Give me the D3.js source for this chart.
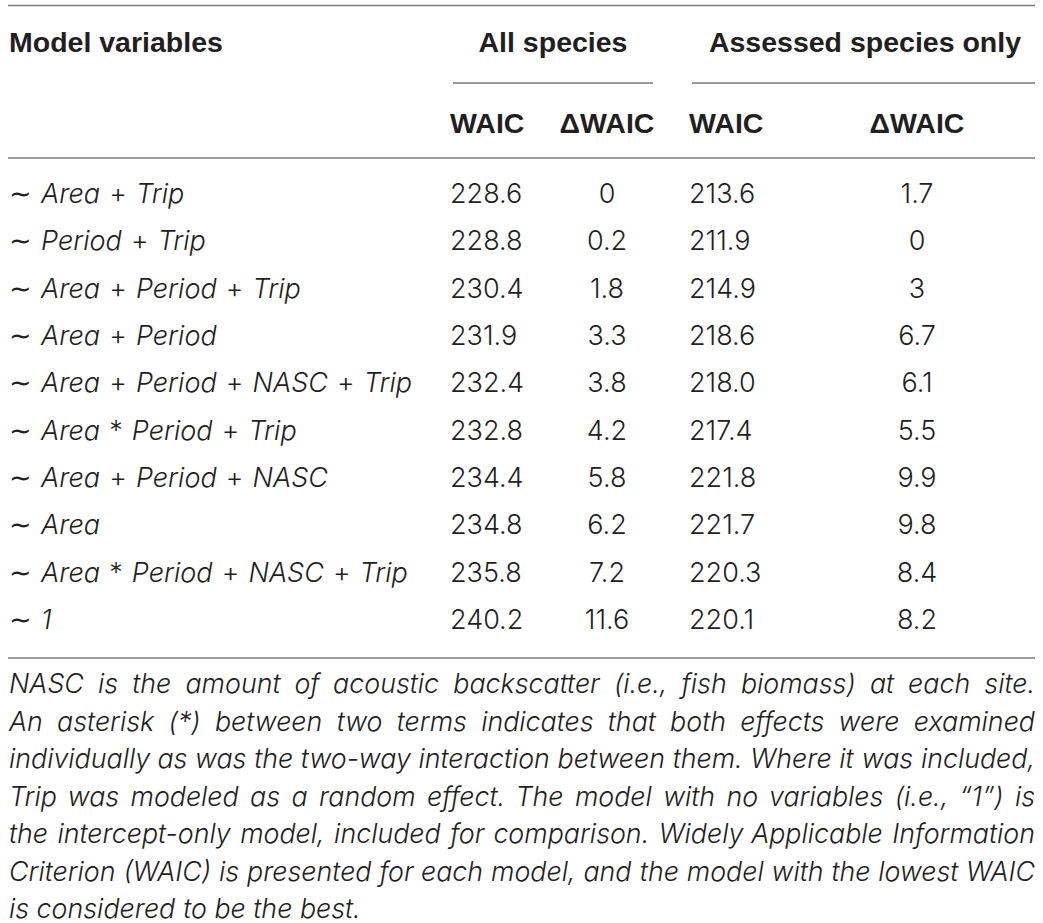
<!DOCTYPE html>
<html>
<head>
<meta charset="utf-8">
<script src="https://cdn.jsdelivr.net/npm/d3@7"></script>
<style>
	html, body { margin: 0; padding: 0; background: #fff; }
	svg { display: block; }
	text { fill: #231f20; }
	.head { font-family: "Liberation Sans", Arial, sans-serif; font-weight: bold; font-size: 28.5px; }
	.body { font-family: Inter, "Liberation Sans", sans-serif; font-weight: 300; font-size: 27px; }
	.note { font-family: Inter, "Liberation Sans", sans-serif; font-weight: 300; font-style: italic; font-size: 25px; }
	.rule { stroke: #7a7a7a; stroke-width: 1.3; }
</style>
</head>
<body>
<svg id="chart"></svg>
<script>
'use strict';

//Table content
var models = [
	'~ Area + Trip',
	'~ Period + Trip',
	'~ Area + Period + Trip',
	'~ Area + Period',
	'~ Area + Period + NASC + Trip',
	'~ Area * Period + Trip',
	'~ Area + Period + NASC',
	'~ Area',
	'~ Area * Period + NASC + Trip',
	'~ 1'
];
var waicAll = [228.6, 228.8, 230.4, 231.9, 232.4, 232.8, 234.4, 234.8, 235.8, 240.2];
var dWaicAll = [0, 0.2, 1.8, 3.3, 3.8, 4.2, 5.8, 6.2, 7.2, 11.6];
var waicAssessed = [213.6, 211.9, 214.9, 218.6, 218.0, 217.4, 221.8, 221.7, 220.3, 220.1];
var dWaicAssessed = [1.7, 0, 3, 6.7, 6.1, 5.5, 9.9, 9.8, 8.4, 8.2];

var groupHeaders = ['All species', 'Assessed species only'];
var colHeaders = ['WAIC', '\u0394WAIC', 'WAIC', '\u0394WAIC'];

var noteLines = [
	'NASC is the amount of acoustic backscatter (i.e., fish biomass) at each site.',
	'An asterisk (*) between two terms indicates that both effects were examined',
	'individually as was the two-way interaction between them. Where it was included,',
	'Trip was modeled as a random effect. The model with no variables (i.e., \u201c1\u201d) is',
	'the intercept-only model, included for comparison. Widely Applicable Information',
	'Criterion (WAIC) is presented for each model, and the model with the lowest WAIC',
	'is considered to be the best.'
];

var width = 1043, height = 923;
var left = 8, right = 1035;

var svg = d3.select('#chart').attr('width', width).attr('height', height);

//row baselines
var y = d3.scalePoint()
	.domain(d3.range(models.length))
	.range([203, 629]);

//columns: [x, anchor]
var cols = [
	{x: 450, anchor: 'start'},
	{x: 607, anchor: 'middle'},
	{x: 689, anchor: 'start'},
	{x: 917, anchor: 'middle'}
];

/***************************************
 * RULES
 ***************************************/
function rule(x1, x2, yy) {
	svg.append('line').attr('class', 'rule')
		.attr('x1', x1).attr('x2', x2).attr('y1', yy).attr('y2', yy);
}
rule(left, right, 5.5);
rule(453, 653, 83);
rule(692, right, 83);
rule(left, right, 158);
rule(left, right, 658);

/***************************************
 * HEADER
 ***************************************/
svg.append('text').attr('class', 'head')
	.attr('x', 9).attr('y', 52).text('Model variables');

svg.selectAll('text.group')
	.data(groupHeaders)
	.enter().append('text')
		.attr('class', 'head group')
		.attr('text-anchor', 'middle')
		.attr('x', function(d, i) { return i === 0 ? 553 : 865; })
		.attr('y', 52)
		.text(function(d) { return d; });

svg.selectAll('text.colhead')
	.data(colHeaders)
	.enter().append('text')
		.attr('class', 'head colhead')
		.attr('text-anchor', function(d, i) { return cols[i].anchor; })
		.attr('x', function(d, i) { return cols[i].x; })
		.attr('y', 133)
		.text(function(d) { return d; });

/***************************************
 * BODY
 ***************************************/
//operators upright and spaced wide, terms italic
var modelText = svg.selectAll('text.model')
	.data(models)
	.enter().append('text')
		.attr('class', 'body model')
		.attr('x', 9)
		.attr('y', function(d, i) { return y(i); });
modelText.each(function(d) {
	var t = d3.select(this);
	d.split(' ').forEach(function(tok, k) {
		var isOp = (tok === '~' || tok === '+' || tok === '*');
		t.append('tspan')
			.style('font-style', isOp ? 'normal' : 'italic')
			.attr('dx', k > 0 ? 1.5 : 0)
			.text((k > 0 ? ' ' : '') + (tok === '~' ? '\u223c' : tok));
	});
});

var series = [waicAll, dWaicAll, waicAssessed, dWaicAssessed];
series.forEach(function(vals, c) {
	svg.selectAll('text.col' + c)
		.data(vals)
		.enter().append('text')
			.attr('class', 'body col' + c)
			.attr('text-anchor', cols[c].anchor)
			.attr('x', cols[c].x)
			.attr('y', function(d, i) { return y(i); })
			.text(function(d) { return c % 2 === 0 ? d.toFixed(1) : String(d); });
});

/***************************************
 * FOOTNOTE (justified)
 ***************************************/
var noteY = d3.scalePoint()
	.domain(d3.range(noteLines.length))
	.range([693, 918]);

//size the note font so the tightest full line just fills the width
var probe = svg.append('text').attr('class', 'note');
var widest = d3.max(noteLines.slice(0, -1), function(l) {
	probe.text(l);
	return probe.node().getComputedTextLength();
});
probe.remove();
var noteSize = 25 * (right - left - 2) / widest;

noteLines.forEach(function(line, i) {
	var words = line.split(' ');
	var t = svg.append('text').attr('class', 'note')
		.style('font-size', noteSize + 'px')
		.attr('y', noteY(i));
	var spans = words.map(function(w) { return t.append('tspan').text(w); });
	var widths = spans.map(function(s) { return s.node().getComputedTextLength(); });
	var total = d3.sum(widths);
	var isLast = i === noteLines.length - 1;
	var space = noteSize * 0.28;
	if (!isLast) space = (right - left - 1 - total) / (words.length - 1);
	var x = left + 1;
	spans.forEach(function(s, k) {
		s.attr('x', x);
		x += widths[k] + space;
	});
});
</script>
</body>
</html>
